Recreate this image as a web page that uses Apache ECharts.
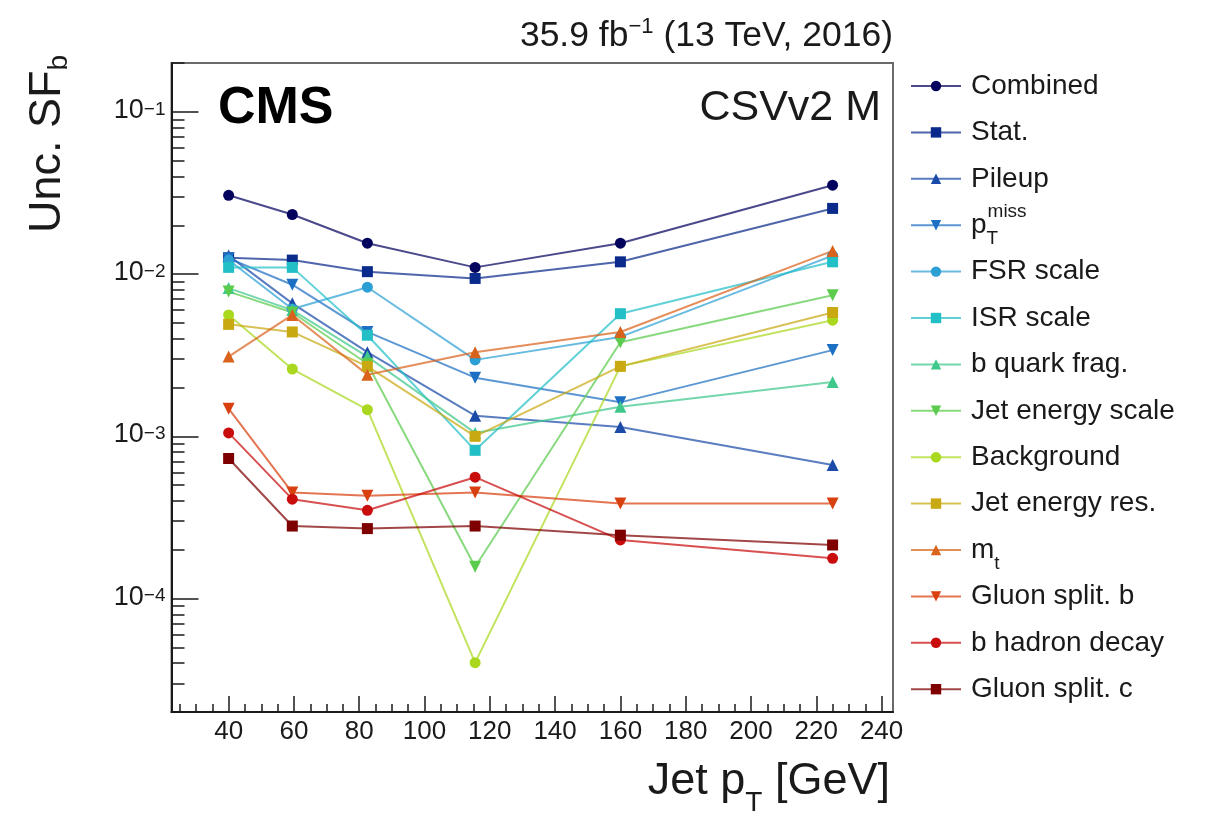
<!DOCTYPE html>
<html>
<head>
<meta charset="utf-8">
<script src="https://cdn.jsdelivr.net/npm/echarts@6/dist/echarts.min.js"></script>
<style>
  html, body { margin: 0; padding: 0; background: #fff; }
  #chart { width: 1207px; height: 816px; }
</style>
</head>
<body>
<div id="chart"></div>
<script>
// Jet pT of each measurement point [GeV]
const jetPt = [40, 59.5, 82.5, 115.5, 160, 225];

// Uncertainty on SF_b per source, CSVv2 medium working point
const combined   = [0.0306, 0.0233, 0.0155, 0.0110, 0.0155, 0.0353];
const stat       = [0.0126, 0.0122, 0.01035, 0.0094, 0.0119, 0.0254];
const pileup     = [0.0130, 0.0066, 0.0033, 0.00134, 0.00114, 0.000665];
const ptMiss     = [0.0125, 0.0086, 0.0044, 0.0023, 0.00162, 0.0034];
const fsrScale   = [0.0122, 0.0061, 0.0083, 0.00296, 0.0041, 0.0130];
const isrScale   = [0.0110, 0.0110, 0.0042, 0.00082, 0.0057, 0.0119];
const bFrag      = [0.0082, 0.0060, 0.0031, 0.00105, 0.00152, 0.00216];
const jes        = [0.0078, 0.0058, 0.0028, 0.000157, 0.0038, 0.0074];
const background = [0.0056, 0.0026, 0.00146, 0.0000403, 0.0027, 0.0052];
const jer        = [0.0049, 0.0044, 0.0027, 0.0010, 0.0027, 0.0058];
const mTop       = [0.0031, 0.0056, 0.0024, 0.0033, 0.0044, 0.0139];
const gluonSplB  = [0.00148, 0.00045, 0.00043, 0.00045, 0.000385, 0.000385];
const bHadDecay  = [0.00105, 0.00041, 0.00035, 0.00056, 0.00023, 0.000177];
const gluonSplC  = [0.00073, 0.00028, 0.00027, 0.00028, 0.000246, 0.000214];

const sourceNames = ['Combined', 'Stat.', 'Pileup', 'p_T^miss', 'FSR scale', 'ISR scale',
  'b quark frag.', 'Jet energy scale', 'Background', 'Jet energy res.', 'm_t',
  'Gluon split. b', 'b hadron decay', 'Gluon split. c'];
const sourceValues = [combined, stat, pileup, ptMiss, fsrScale, isrScale, bFrag, jes,
  background, jer, mTop, gluonSplB, bHadDecay, gluonSplC];

// Axis tick labels
const xTickLabels = [40, 60, 80, 100, 120, 140, 160, 180, 200, 220, 240];
const yTickLabels = [1e-4, 1e-3, 1e-2, 1e-1];

// Marker styles (ROOT-like rainbow palette)
const DOWN = 'path://M0,0 L10,0 L5,9 Z';
const UP = 'path://M5,0 L10,9 L0,9 Z';
const colors = ['#03035e', '#0a2a8c', '#1b4aa8', '#1d6fc4', '#2c9fd4', '#22bfc7',
  '#3ec88c', '#5bcc4e', '#a9d81f', '#c9a912', '#d9621c', '#d8400f', '#c90d0d', '#7e0000'];
const symbols = ['circle', 'rect', UP, DOWN, 'circle', 'rect', UP, DOWN, 'circle', 'rect',
  UP, DOWN, 'circle', 'rect'];
const symbolSizes = [11, 11, 12, 12, 11, 11, 12, 12, 11, 11, 12, 12, 11, 11];

// Minor ticks
const X_MIN = 22.5, X_MAX = 243.5, Y_MIN = 2e-5, Y_MAX = 0.2;
const xMinor = [];
for (let v = 25; v <= 240; v += 5) xMinor.push(v);
const yMinor = [];
for (let e = -5; e <= -1; e++) {
  for (let k = 2; k <= 9; k++) {
    const v = k * Math.pow(10, e);
    if (v >= Y_MIN * 0.999 && v <= Y_MAX * 1.001) yMinor.push(v);
  }
}

const FONT = '"Liberation Sans", Arial, Helvetica, sans-serif';
const INK = '#1a1a1a';

function legendText(name) {
  if (name === 'p_T^miss') return '{n|p}{sub|T}{sup|miss}';
  if (name === 'm_t') return '{n|m}{mt|t}';
  return '{n|' + name + '}';
}

const series = sourceNames.map((name, i) => ({
  name: name,
  type: 'line',
  xAxisIndex: 0,
  yAxisIndex: 0,
  data: jetPt.map((x, j) => [x, sourceValues[i][j]]),
  symbol: symbols[i],
  symbolSize: symbolSizes[i],
  showSymbol: true,
  clip: false,
  itemStyle: { color: colors[i], opacity: 1 },
  lineStyle: { color: colors[i], width: 2, opacity: 0.72 },
  emphasis: { disabled: true },
  animation: false
}));

const chart = echarts.init(document.getElementById('chart'), null, { renderer: 'canvas' });
chart.setOption({
  animation: false,
  backgroundColor: '#ffffff',
  textStyle: { fontFamily: FONT },
  grid: {
    left: 171.5, right: 314, top: 63, bottom: 104,
    show: true, borderColor: '#6a6a6a', borderWidth: 2,
    outerBoundsMode: 'none'
  },
  xAxis: [
    {
      type: 'value', min: X_MIN, max: X_MAX, position: 'bottom',
      axisLine: { show: true, lineStyle: { color: INK, width: 2 } },
      axisTick: { show: true, inside: true, length: 16, customValues: xTickLabels,
        lineStyle: { color: INK, width: 1.5 } },
      axisLabel: { show: true, customValues: xTickLabels, fontSize: 26, color: INK, margin: 7,
        fontFamily: FONT },
      splitLine: { show: false }
    },
    {
      type: 'value', min: X_MIN, max: X_MAX, position: 'bottom',
      axisLine: { show: false },
      axisTick: { show: true, inside: true, length: 8, customValues: xMinor,
        lineStyle: { color: INK, width: 1.5 } },
      axisLabel: { show: false },
      splitLine: { show: false }
    }
  ],
  yAxis: [
    {
      type: 'log', logBase: 10, min: Y_MIN, max: Y_MAX, position: 'left',
      axisLine: { show: true, lineStyle: { color: INK, width: 2 } },
      axisTick: { show: true, inside: true, length: 27, customValues: yTickLabels,
        lineStyle: { color: INK, width: 1.5 } },
      axisLabel: {
        show: true, customValues: yTickLabels, margin: 6, color: INK,
        formatter: function (v) {
          const e = Math.round(Math.log10(v));
          return '{b|10}{s|\u2212' + Math.abs(e) + '}';
        },
        rich: {
          b: { fontSize: 27, fontFamily: FONT, color: INK, lineHeight: 24, verticalAlign: 'bottom' },
          s: { fontSize: 19, fontFamily: FONT, color: INK, lineHeight: 18, verticalAlign: 'top' }
        }
      },
      splitLine: { show: false }
    },
    {
      type: 'log', logBase: 10, min: Y_MIN, max: Y_MAX, position: 'left',
      axisLine: { show: false },
      axisTick: { show: true, inside: true, length: 13, customValues: yMinor,
        lineStyle: { color: INK, width: 1.5 } },
      axisLabel: { show: false },
      splitLine: { show: false }
    }
  ],
  legend: {
    orient: 'vertical',
    left: 910, top: 63,
    padding: 0,
    itemGap: 0.4,
    itemWidth: 50, itemHeight: 13,
    data: sourceNames,
    selectedMode: false,
    formatter: legendText,
    textStyle: {
      fontFamily: FONT, color: INK, fontSize: 28, lineHeight: 46,
      rich: {
        n: { fontSize: 28, fontFamily: FONT, color: INK, lineHeight: 46, padding: [0, 0, 0, 5] },
        sup: { fontSize: 19, fontFamily: FONT, color: INK, lineHeight: 30, verticalAlign: 'top' },
        sub: { fontSize: 19, fontFamily: FONT, color: INK, lineHeight: 8, verticalAlign: 'bottom', width: 1 },
        mt: { fontSize: 19, fontFamily: FONT, color: INK, lineHeight: 22, verticalAlign: 'bottom' }
      }
    }
  },
  graphic: [
    {
      type: 'text', x: 893, y: 35, silent: true,
      style: {
        text: '{a|35.9 fb}{s|\u22121}{a| (13 TeV, 2016)}',
        align: 'right', verticalAlign: 'middle',
        rich: {
          a: { fontSize: 35.5, fontFamily: FONT, fill: INK, lineHeight: 38, verticalAlign: 'bottom' },
          s: { fontSize: 22, fontFamily: FONT, fill: INK, lineHeight: 22, verticalAlign: 'top' }
        }
      }
    },
    {
      type: 'text', x: 218, y: 109, silent: true,
      style: { text: 'CMS', fontSize: 52, fontWeight: 'bold', fontFamily: FONT, fill: '#000',
        align: 'left', verticalAlign: 'middle' }
    },
    {
      type: 'text', x: 881, y: 108, silent: true,
      style: { text: 'CSVv2 M', fontSize: 43, fontFamily: FONT, fill: INK,
        align: 'right', verticalAlign: 'middle' }
    },
    {
      type: 'text', x: 890, y: 782, silent: true,
      style: {
        text: '{a|Jet p}{t|T}{a| [GeV]}',
        align: 'right', verticalAlign: 'middle',
        rich: {
          a: { fontSize: 45, fontFamily: FONT, fill: INK, lineHeight: 70 },
          t: { fontSize: 28, fontFamily: FONT, fill: INK, lineHeight: 28, verticalAlign: 'bottom' }
        }
      }
    },
    {
      type: 'text', x: 48, y: 55, rotation: Math.PI / 2, silent: true,
      style: {
        text: '{a|Unc. SF}{b|b}',
        align: 'right', verticalAlign: 'middle',
        rich: {
          a: { fontSize: 45, fontFamily: FONT, fill: INK, lineHeight: 50 },
          b: { fontSize: 28, fontFamily: FONT, fill: INK, lineHeight: 14, verticalAlign: 'bottom' }
        }
      }
    }
  ],
  series: series
});
</script>
</body>
</html>
